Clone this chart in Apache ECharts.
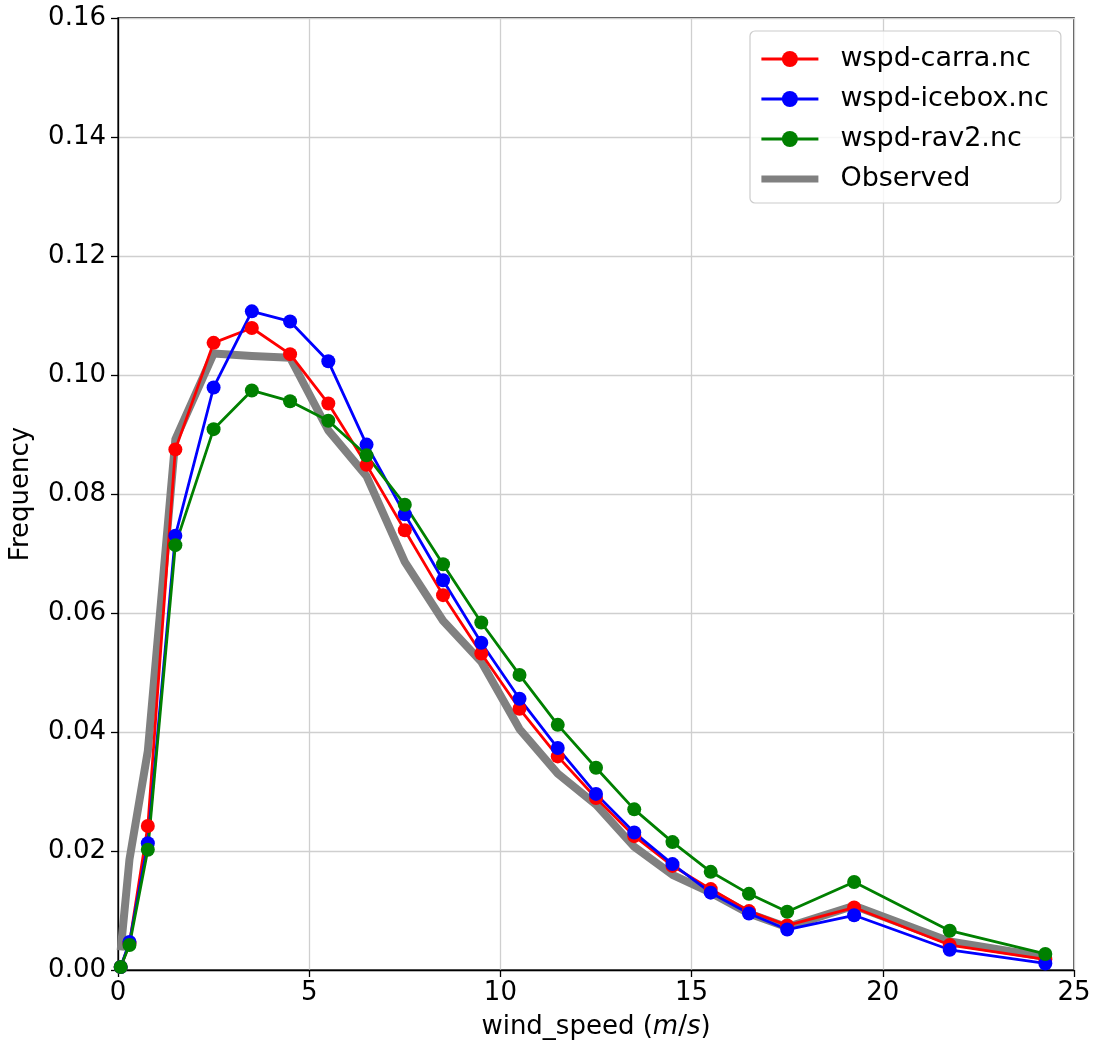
<!DOCTYPE html>
<html>
<head>
<meta charset="utf-8">
<script src="https://cdn.jsdelivr.net/npm/echarts@6/dist/echarts.min.js"></script>
<style>
html,body{margin:0;padding:0;background:#fff;}
#chart{width:1095px;height:1046px;}
</style>
</head>
<body>
<div id="chart"></div>
<script>
// wind speed bin centres (m/s)
const windSpeed = [0.07, 0.3, 0.78, 1.5, 2.5, 3.5, 4.5, 5.5, 6.5, 7.5, 8.5, 9.5, 10.5, 11.5, 12.5, 13.5, 14.5, 15.5, 16.5, 17.5, 19.25, 21.75, 24.25];
const carra    = [0.0005, 0.0045, 0.0242, 0.0875, 0.1054, 0.1079, 0.1035, 0.0952, 0.0849, 0.0739, 0.0630, 0.0532, 0.0439, 0.0359, 0.0289, 0.0225, 0.0175, 0.0136, 0.0099, 0.0075, 0.0105, 0.0042, 0.0018];
const icebox   = [0.0005, 0.0047, 0.0213, 0.0730, 0.0979, 0.1107, 0.1090, 0.1023, 0.0883, 0.0766, 0.0655, 0.0550, 0.0456, 0.0373, 0.0296, 0.0231, 0.0178, 0.0130, 0.0095, 0.0068, 0.0092, 0.0034, 0.0011];
const rav2     = [0.0005, 0.0042, 0.0202, 0.0714, 0.0909, 0.0974, 0.0956, 0.0923, 0.0865, 0.0782, 0.0682, 0.0584, 0.0496, 0.0412, 0.0340, 0.0270, 0.0215, 0.0165, 0.0128, 0.0098, 0.0148, 0.0066, 0.0027];
const observed = [0.0033, 0.0186, 0.0368, 0.0892, 0.1036, 0.1032, 0.1029, 0.0907, 0.0830, 0.0686, 0.0587, 0.0518, 0.0405, 0.0330, 0.0278, 0.0207, 0.0160, 0.0130, 0.0095, 0.0072, 0.0108, 0.0048, 0.0022];

const seriesNames = ['wspd-carra.nc', 'wspd-icebox.nc', 'wspd-rav2.nc', 'Observed'];
const xTicks = [0, 5, 10, 15, 20, 25];
const yTicks = [0, 0.02, 0.04, 0.06, 0.08, 0.10, 0.12, 0.14, 0.16];

const FONT = 'DejaVu Sans';
const pair = arr => windSpeed.map((x, i) => [x, arr[i]]);

function lineSeries(name, data, color) {
  return {
    name, type: 'line', data: pair(data),
    symbol: 'circle', symbolSize: 14,
    itemStyle: { color },
    lineStyle: { color, width: 2.8, join: 'round' },
    z: 3, animation: false
  };
}

const chart = echarts.init(document.getElementById('chart'));
chart.setOption({
  backgroundColor: '#fff',
  animation: false,
  textStyle: { fontFamily: FONT, color: '#000' },
  grid: { left: 116, right: 21, top: 18, bottom: 76, show: true, borderColor: '#000', borderWidth: 1.3, backgroundColor: 'transparent' },
  legend: {
    orient: 'vertical',
    left: 750, top: 31,
    padding: [13, 12, 9, 10],
    itemGap: 10,
    itemWidth: 57, itemHeight: 20,
    backgroundColor: 'rgba(255,255,255,0.8)',
    borderColor: '#cccccc', borderWidth: 1.2, borderRadius: 5,
    lineStyle: { width: 2.8 },
    textStyle: { fontFamily: FONT, fontSize: 27, color: '#000', lineHeight: 30, padding: [0, 0, 0, 17] },
    data: [
      { name: seriesNames[0] },
      { name: seriesNames[1] },
      { name: seriesNames[2] },
      { name: seriesNames[3], icon: 'path://M0,0 L63,0 L63,8 L0,8 Z', itemStyle: { color: '#808080' } }
    ]
  },
  xAxis: {
    type: 'value', min: xTicks[0], max: xTicks[xTicks.length - 1], interval: 5,
    name: '{n|wind_speed (}{i|m}{n|/}{i|s}{n|)}',
    nameLocation: 'middle', nameGap: 44,
    nameTextStyle: {
      rich: {
        n: { fontFamily: FONT, fontSize: 26, color: '#000' },
        i: { fontFamily: FONT, fontSize: 26, color: '#000', fontStyle: 'italic' }
      }
    },
    axisLine: { show: true, lineStyle: { color: '#000', width: 1.3 } },
    axisTick: { show: true, inside: false, length: 7, lineStyle: { color: '#000', width: 1.3 } },
    axisLabel: { fontFamily: FONT, fontSize: 26, color: '#000', margin: 10 },
    splitLine: { show: true, lineStyle: { color: '#cfcfcf', width: 1.3 } }
  },
  yAxis: {
    type: 'value', min: yTicks[0], max: yTicks[yTicks.length - 1], interval: 0.02,
    name: 'Frequency', nameLocation: 'middle', nameGap: 84,
    nameTextStyle: { fontFamily: FONT, fontSize: 26, color: '#000' },
    axisLine: { show: true, lineStyle: { color: '#000', width: 1.3 } },
    axisTick: { show: true, inside: false, length: 7, lineStyle: { color: '#000', width: 1.3 } },
    axisLabel: { fontFamily: FONT, fontSize: 26, color: '#000', margin: 12, formatter: v => v.toFixed(2) },
    splitLine: { show: true, lineStyle: { color: '#cfcfcf', width: 1.3 } }
  },
  series: [
    lineSeries(seriesNames[0], carra, '#ff0000'),
    lineSeries(seriesNames[1], icebox, '#0000ff'),
    lineSeries(seriesNames[2], rav2, '#008000'),
    {
      name: seriesNames[3], type: 'line', data: pair(observed),
      symbol: 'none', showSymbol: false,
      itemStyle: { color: '#808080' },
      lineStyle: { color: '#808080', width: 8, join: 'round' },
      z: 2, animation: false
    }
  ]
});
</script>
</body>
</html>
